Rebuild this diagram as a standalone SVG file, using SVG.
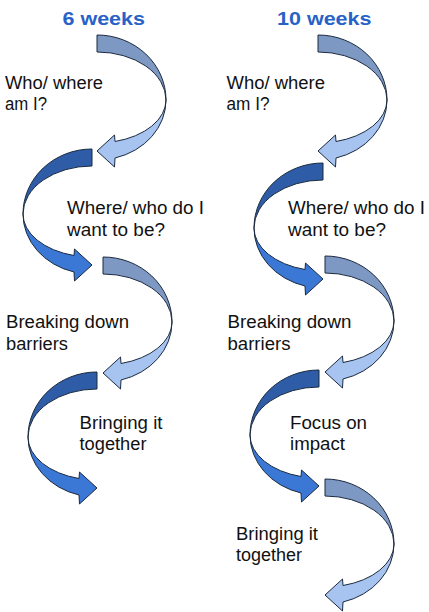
<svg xmlns="http://www.w3.org/2000/svg" xmlns:xlink="http://www.w3.org/1999/xlink" width="429" height="612" viewBox="0 0 429 612">
<style>
.title{font-family:"Liberation Sans",Arial,sans-serif;font-weight:bold;font-size:19px;fill:#2862c6}
.lbl{font-family:"Liberation Sans",Arial,sans-serif;font-size:17.5px;fill:#111}
.ad{fill:#7e98c4;stroke:#1b2a3f;stroke-width:1}
.al{fill:#a7c3ef;stroke:#1b2a3f;stroke-width:1}
.bd{fill:#2e5ca6;stroke:#1b2a3f;stroke-width:1}
.bl{fill:#3b78d6;stroke:#1b2a3f;stroke-width:1}
</style>
<defs>
<g id="arrowA">
<path class="ad" d="M0,0 A69,65 0 0 1 69,65 A69,48 0 0 0 0,17 Z"/>
<path class="al" d="M69,65 A69,60 0 0 1 18,123 L17.5,132 L0,116 L17.5,100 L18,106.5 A69,43 0 0 0 69,65 Z"/>
</g>
<g id="arrowB">
<path class="bd" d="M0,0 A69,65 0 0 1 69,65 A69,48 0 0 0 0,17 Z"/>
<path class="bl" d="M69,65 A69,60 0 0 1 18,123 L17.5,132 L0,116 L17.5,100 L18,106.5 A69,43 0 0 0 69,65 Z"/>
</g>
</defs>
<rect width="429" height="612" fill="#fff"/>
<g id="connectors">
<use xlink:href="#arrowA" href="#arrowA" transform="translate(97,35)"/>
<use xlink:href="#arrowB" href="#arrowB" transform="translate(92,149) scale(-1,1)"/>
<use xlink:href="#arrowA" href="#arrowA" transform="translate(103,257)"/>
<use xlink:href="#arrowB" href="#arrowB" transform="translate(97,372) scale(-1,1)"/>
<use xlink:href="#arrowA" href="#arrowA" transform="translate(318,35)"/>
<use xlink:href="#arrowB" href="#arrowB" transform="translate(323,163) scale(-1,1)"/>
<use xlink:href="#arrowA" href="#arrowA" transform="translate(325,256)"/>
<use xlink:href="#arrowB" href="#arrowB" transform="translate(319,370) scale(-1,1)"/>
<use xlink:href="#arrowA" href="#arrowA" transform="translate(325,479)"/>
</g>
<g id="title6"><text class="title" x="62.5" y="25" textLength="82.5" lengthAdjust="spacingAndGlyphs">6 weeks</text></g>
<g id="title10"><text class="title" x="277" y="25" textLength="94.5" lengthAdjust="spacingAndGlyphs">10 weeks</text></g>
<g id="l-who"><text class="lbl" x="5" y="89" textLength="98" lengthAdjust="spacingAndGlyphs">Who/ where</text><text class="lbl" x="5" y="110" textLength="42" lengthAdjust="spacingAndGlyphs">am I?</text></g>
<g id="l-where"><text class="lbl" x="67" y="214" textLength="137" lengthAdjust="spacingAndGlyphs">Where/ who do I</text><text class="lbl" x="67" y="236" textLength="98" lengthAdjust="spacingAndGlyphs">want to be?</text></g>
<g id="l-break"><text class="lbl" x="6" y="328" textLength="123" lengthAdjust="spacingAndGlyphs">Breaking down</text><text class="lbl" x="6" y="350" textLength="62" lengthAdjust="spacingAndGlyphs">barriers</text></g>
<g id="l-bring"><text class="lbl" x="79.5" y="429" textLength="83" lengthAdjust="spacingAndGlyphs">Bringing it</text><text class="lbl" x="79.5" y="450" textLength="67" lengthAdjust="spacingAndGlyphs">together</text></g>
<g id="r-who"><text class="lbl" x="226.5" y="89" textLength="98.5" lengthAdjust="spacingAndGlyphs">Who/ where</text><text class="lbl" x="226.5" y="110" textLength="43" lengthAdjust="spacingAndGlyphs">am I?</text></g>
<g id="r-where"><text class="lbl" x="288" y="214" textLength="137" lengthAdjust="spacingAndGlyphs">Where/ who do I</text><text class="lbl" x="288" y="236" textLength="98" lengthAdjust="spacingAndGlyphs">want to be?</text></g>
<g id="r-break"><text class="lbl" x="227.5" y="328" textLength="124" lengthAdjust="spacingAndGlyphs">Breaking down</text><text class="lbl" x="227.5" y="350" textLength="63" lengthAdjust="spacingAndGlyphs">barriers</text></g>
<g id="r-focus"><text class="lbl" x="290" y="429" textLength="77" lengthAdjust="spacingAndGlyphs">Focus on</text><text class="lbl" x="290" y="450" textLength="55" lengthAdjust="spacingAndGlyphs">impact</text></g>
<g id="r-bring"><text class="lbl" x="236" y="540" textLength="82" lengthAdjust="spacingAndGlyphs">Bringing it</text><text class="lbl" x="236" y="561" textLength="66" lengthAdjust="spacingAndGlyphs">together</text></g>
</svg>
